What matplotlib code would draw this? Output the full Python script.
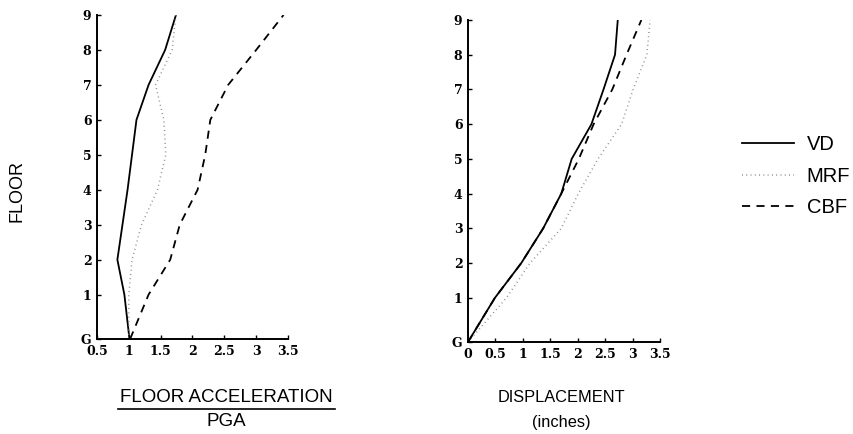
import matplotlib
matplotlib.use("Agg")
import matplotlib.pyplot as plt
from matplotlib.lines import Line2D
from matplotlib import font_manager

# Floor labels and their elevations (first story taller than the rest)
floor_labels = ["G", "1", "2", "3", "4", "5", "6", "7", "8", "9"]
floor_levels = [0, 1.27, 2.27, 3.27, 4.27, 5.27, 6.27, 7.27, 8.27, 9.27]

# Peak floor acceleration normalised by PGA
accel_vd = [1.01, 0.93, 0.82, 0.90, 0.98, 1.05, 1.12, 1.31, 1.57, 1.74]
accel_mrf = [1.00, 1.00, 1.05, 1.20, 1.45, 1.58, 1.55, 1.42, 1.68, 1.74]
accel_cbf = [1.02, 1.31, 1.65, 1.80, 2.08, 2.20, 2.28, 2.56, 3.00, 3.43]

# Peak floor displacement (inches)
disp_vd = [0.0, 0.49, 0.97, 1.37, 1.70, 1.89, 2.25, 2.47, 2.68, 2.73]
disp_mrf = [0.0, 0.70, 1.13, 1.70, 2.01, 2.37, 2.80, 3.01, 3.26, 3.32]
disp_cbf = [0.0, 0.49, 0.97, 1.37, 1.70, 2.02, 2.29, 2.63, 2.89, 3.16]

accel_ticks = [0.5, 1, 1.5, 2, 2.5, 3, 3.5]
accel_ticklabels = ["0.5", "1", "1.5", "2", "2.5", "3", "3.5"]
disp_ticks = [0, 0.5, 1, 1.5, 2, 2.5, 3, 3.5]
disp_ticklabels = ["0", "0.5", "1", "1.5", "2", "2.5", "3", "3.5"]

names = {f.name for f in font_manager.fontManager.ttflist}
label_font = "Liberation Sans Narrow" if "Liberation Sans Narrow" in names else "Liberation Sans"
tick_font = "DejaVu Serif"

styles = {
    "VD": dict(color="black", lw=1.3, ls="-"),
    "MRF": dict(color="#8a8a8a", lw=1.1, ls=(0, (0.6, 2.2))),
    "CBF": dict(color="black", lw=1.3, ls=(0, (4.5, 3.5))),
}

fig = plt.figure(figsize=(8.54, 4.34), dpi=100)
ax1 = fig.add_axes([97 / 854, 1 - 339 / 434, 191 / 854, 324 / 434])
ax2 = fig.add_axes([468 / 854, 1 - 342 / 434, 192 / 854, 322 / 434])

ax1.plot(accel_vd, floor_levels, **styles["VD"])
ax1.plot(accel_mrf, floor_levels, **styles["MRF"])
ax1.plot(accel_cbf, floor_levels, **styles["CBF"])

ax2.plot(disp_vd, floor_levels, **styles["VD"])
ax2.plot(disp_mrf, floor_levels, **styles["MRF"])
ax2.plot(disp_cbf, floor_levels, **styles["CBF"])

for ax, lo, hi, ticks, tlabels in (
    (ax1, 0.5, 3.5, accel_ticks, accel_ticklabels),
    (ax2, 0.0, 3.5, disp_ticks, disp_ticklabels),
):
    ax.set_xlim(lo, hi)
    ax.set_ylim(0, floor_levels[-1])
    ax.spines["top"].set_visible(False)
    ax.spines["right"].set_visible(False)
    ax.spines["left"].set_linewidth(1.4)
    ax.spines["bottom"].set_linewidth(1.4)
    ax.set_xticks(ticks)
    ax.set_xticklabels(tlabels)
    ax.set_yticks(floor_levels)
    ax.set_yticklabels(floor_labels)
    ax.tick_params(direction="in", length=3, width=1.0, pad=4)
    for lbl in ax.get_xticklabels() + ax.get_yticklabels():
        lbl.set_fontfamily(tick_font)
        lbl.set_fontweight("bold")
        lbl.set_fontsize(9)

# Axis titles
fig.text(17 / 854, 1 - 191 / 434, "FLOOR", rotation=90, ha="center", va="center",
         family=label_font, fontsize=13)
fig.text(226 / 854, 1 - 398 / 434, "FLOOR ACCELERATION", ha="center", va="center",
         family=label_font, fontsize=13.5)
fig.add_artist(Line2D([118 / 854, 335 / 854], [1 - 409 / 434, 1 - 409 / 434],
                      color="black", lw=1.2))
fig.text(226 / 854, 1 - 422 / 434, "PGA", ha="center", va="center",
         family=label_font, fontsize=13.5)
fig.text(561 / 854, 1 - 398 / 434, "DISPLACEMENT", ha="center", va="center",
         family=label_font, fontsize=11.8)
fig.text(561 / 854, 1 - 422 / 434, "(inches)", ha="center", va="center",
         family=label_font, fontsize=11.8)

# Legend
handles = [Line2D([], [], **styles[k]) for k in ("VD", "MRF", "CBF")]
fig.legend(handles, ["VD", "MRF", "CBF"], loc="upper left",
           bbox_to_anchor=(724 / 854, 1 - 117 / 434), frameon=False,
           prop={"family": "Liberation Sans", "size": 14.5},
           handlelength=2.6, handletextpad=0.6, labelspacing=0.62)

fig.savefig("out.png", dpi=100, facecolor="white")
